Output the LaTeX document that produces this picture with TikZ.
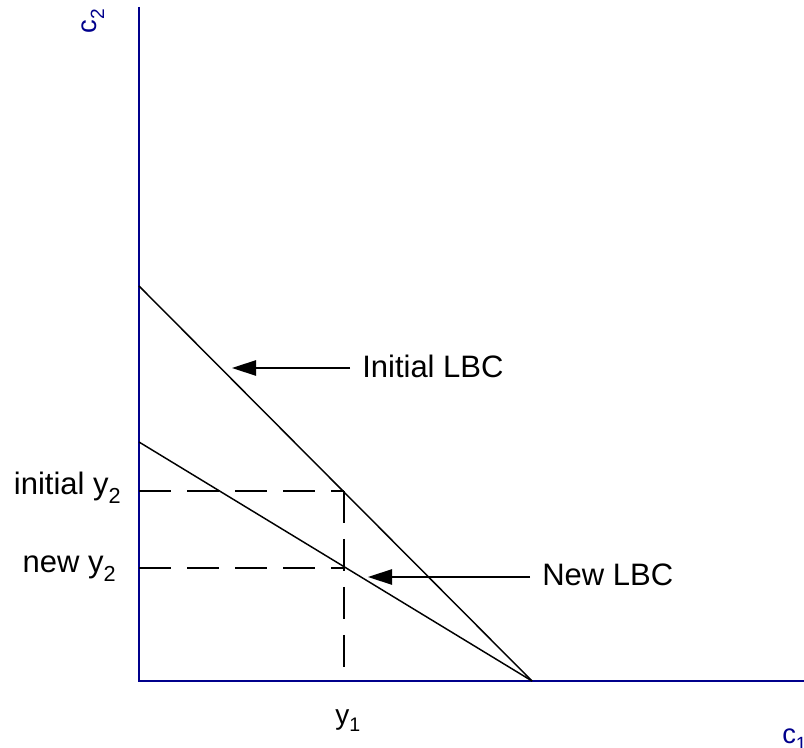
\documentclass[tikz,border=0pt]{standalone}
\usepackage{fontspec}
\setmainfont{Liberation Sans}
\usepackage{tikz}
\usetikzlibrary{arrows.meta}
\definecolor{axisblue}{RGB}{0,0,140}
\newcommand{\lowidx}[1]{\raisebox{-0.28em}{\scalebox{0.7}{#1}}}
\tikzset{
  axis/.style={draw=axisblue, line width=1.5pt},
  budget/.style={draw=black, line width=1.1pt},
  guide/.style={draw=black, line width=1.1pt, dash pattern=on 24pt off 12pt},
  arrow/.style={-{Triangle[length=18pt, width=11.5pt]}, line width=1.1pt},
  lbl/.style={inner sep=0pt, font=\fontsize{23.25}{28}\selectfont},
  calloutlbl/.style={lbl, inner xsep=9pt},
  axlbl/.style={inner sep=0pt, text=axisblue, font=\fontsize{20.5}{24}\selectfont}
}

\begin{document}
\begin{tikzpicture}[x=0.75pt, y=-0.75pt]
  \useasboundingbox (0,0) rectangle (804,748);
  % Axes
  \coordinate (O) at (139,681);
  \coordinate (ytop) at (139,7);
  \coordinate (xend) at (804,681);
  \draw[axis] (ytop) -- (O) -- (xend);
  \node[axlbl, rotate=90] (c2) at (93,21) {c\lowidx{2}};
  \node[axlbl, anchor=base west] (c1) at (782,743) {c\lowidx{1}};
  % Budget lines
  \coordinate (initA) at (139,286);
  \coordinate (newA) at (139,442);
  \coordinate (xint) at (532,681);
  \draw[budget] (initA) -- (xint);
  \draw[budget] (newA) -- (xint);
  % Endowment guides
  \coordinate (iy) at (344,491);
  \coordinate (ny) at (344,568);
  \coordinate (yfoot) at (344,667);
  \draw[guide] (O |- iy) -- (iy);
  \draw[guide] (O |- ny) -- (ny);
  \draw[guide] (iy) -- (yfoot);
  \node[lbl, anchor=base east] (iylbl) at (121,495) {initial y\lowidx{2}};
  \node[lbl, anchor=base east] (nylbl) at (116,573) {new y\lowidx{2}};
  \node[lbl, anchor=base west, font=\fontsize{21}{25}\selectfont] (y1lbl) at (335,724) {y\lowidx{1}};
  % Callouts
  \coordinate (tipinit) at (232,368);
  \coordinate (tipnew) at (368,577);
  \node[calloutlbl, anchor=west] (initlbl) at (350,366) {Initial LBC};
  \node[calloutlbl, anchor=west] (newlbl) at (530,575) {New LBC};
  \draw[arrow] (initlbl.west |- tipinit) -- (tipinit);
  \draw[arrow] (newlbl.west |- tipnew) -- (tipnew);
\end{tikzpicture}
\end{document}
